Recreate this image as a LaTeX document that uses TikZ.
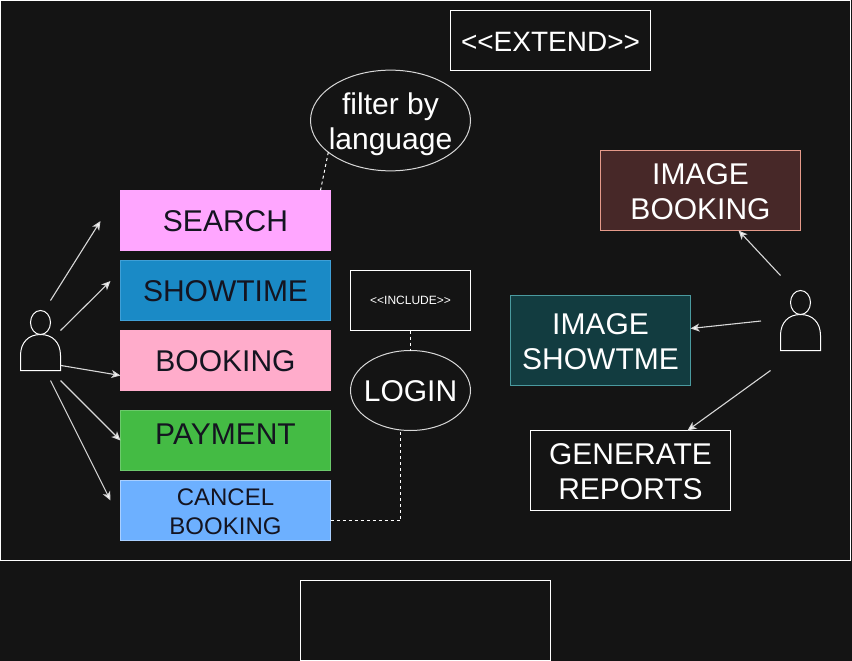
\documentclass[tikz,border=0pt]{standalone}
\usepackage{fontspec}
\setmainfont{Liberation Sans}
\usetikzlibrary{arrows.meta,shapes.geometric}
\definecolor{bgc}{HTML}{141414}
\definecolor{darktxt}{HTML}{141420}
\definecolor{linec}{HTML}{D8D8D8}
\definecolor{searchc}{HTML}{FFA6FF}
\definecolor{showc}{HTML}{1A8AC6}
\definecolor{showb}{HTML}{3F9FD6}
\definecolor{bookc}{HTML}{FFACCB}
\definecolor{payc}{HTML}{44BB44}
\definecolor{payb}{HTML}{6CC96C}
\definecolor{cancelc}{HTML}{6DB0FF}
\definecolor{cancelb}{HTML}{A9CFFF}
\definecolor{imgbc}{HTML}{472828}
\definecolor{imgbb}{HTML}{E59A8A}
\definecolor{imgsc}{HTML}{123C40}
\definecolor{imgsb}{HTML}{4A9A9F}
\newcommand{\topstrut}[1]{\rule{0pt}{#1pt}}
\tikzset{
  x=1pt,y=-1pt,
  big/.style={font=\fontsize{30}{35}\selectfont},
  boxnode/.style={rectangle,inner sep=0pt,outer sep=0pt,minimum width=#1,align=center,line width=1pt,big},
  boxnode/.default=210pt,
  h60/.style={minimum height=60pt},
  h80/.style={minimum height=80pt},
  ovalnode/.style={ellipse,draw=linec,line width=1pt,inner sep=0pt,outer sep=0pt,align=center,text=white,big},
  flow/.style={draw=linec,line width=1.1pt,-{Stealth[length=9pt,width=8pt,inset=2.5pt,fill=white]}},
  dashlink/.style={draw=white,line width=1pt,dash pattern=on 3pt off 3pt},
  useractor/.pic={
    \draw[white,line width=1pt,fill=bgc] (-20,36) -- (-20,21)
      .. controls (-20,8) and (-12,0) .. (0,0)
      .. controls (12,0) and (20,8) .. (20,21) -- (20,36) -- cycle;
    \draw[white,line width=1pt,fill=bgc] (0,-12) ellipse [x radius=10,y radius=12];
  }
}
\begin{document}
\begin{tikzpicture}
\path[fill=bgc] (0,0) rectangle (852,661);
\useasboundingbox (0,0) rectangle (852,661);
\draw[white,line width=1pt] (0.5,0.5) rectangle (850.5,560.5);
\node[boxnode=250pt,h80,draw=white] (blank) at (425.5,620.5) {};
\node[boxnode=200pt,h60,draw=white,text=white,font=\fontsize{28}{33}\selectfont] (extend) at (550.5,40.5) {\topstrut{22}<\kern0pt<EXTEND>\kern0pt>};
\node[ovalnode,minimum width=160pt,minimum height=100pt] (filter) at (390.5,120.5) {\topstrut{30}\makebox[0pt]{filter by}\\\makebox[0pt]{language}};
\node[boxnode,h60,fill=searchc,draw=searchc,text=darktxt] (search) at (225.5,220.5) {\topstrut{22.5}SEARCH};
\node[boxnode,h60,fill=showc,draw=showb,text=darktxt] (showtime) at (225.5,290.5) {\topstrut{22.5}SHOWTIME};
\node[boxnode,h60,fill=bookc,draw=bookc,text=darktxt] (booking) at (225.5,360.5) {\topstrut{22.5}BOOKING};
\node[boxnode,h60,fill=payc,draw=payb,text=darktxt] (payment) at (225.5,440.5) {\raisebox{13pt}{PAYMENT}};
\node[boxnode,h60,fill=cancelc,draw=cancelb,text=darktxt,font=\fontsize{24}{29}\selectfont] (cancel) at (225.5,510.5) {\topstrut{20}CANCEL\\BOOKING};
\node[boxnode=120pt,h60,draw=white,text=white,font=\fontsize{12}{14}\selectfont] (include) at (410.5,300.5) {<\kern0pt<INCLUDE>\kern0pt>};
\node[ovalnode,minimum width=120pt,minimum height=80pt] (login) at (410.5,390.5) {\topstrut{22.5}\makebox[0pt]{LOGIN}};
\node[boxnode=200pt,h80,fill=imgbc,draw=imgbb,text=white] (imgbook) at (700.5,190.5) {\topstrut{22.5}IMAGE\\BOOKING};
\node[boxnode=180pt,minimum height=90pt,fill=imgsc,draw=imgsb,text=white] (imgshow) at (600.5,340.5) {\topstrut{22.5}IMAGE\\SHOWTME};
\node[boxnode=200pt,h80,draw=white,text=white] (reports) at (630.5,470.5) {\topstrut{22.5}GENERATE\\REPORTS};
\pic at (40.5,334.5) {useractor};
\pic at (800.5,314.5) {useractor};
\coordinate (la) at (50.5,300.5);
\coordinate (lae) at (100.5,221);
\coordinate (lb) at (60.5,330.5);
\coordinate (lbe) at (110.5,281);
\coordinate (lc) at (61,365.5);
\coordinate (ld) at (60.5,380.5);
\coordinate (le) at (50.5,380.5);
\coordinate (lee) at (110.5,500.5);
\coordinate (ra) at (780.5,275.5);
\coordinate (rb) at (761,321);
\coordinate (rc) at (770.5,370.5);
\coordinate (lcorner) at (400.5,520.5);
\draw[flow] (la) -- (lae);
\draw[flow] (lb) -- (lbe);
\draw[flow] (lc) -- ([yshift=-15pt]booking.west);
\draw[flow] (ld) -- (payment.west);
\draw[flow] (le) -- (lee);
\draw[flow] (ra) -- ([xshift=38pt]imgbook.south);
\draw[flow] (rb) -- ([yshift=12pt]imgshow.east);
\draw[flow] (rc) -- ([xshift=57pt]reports.north);
\draw[dashlink] (filter.207.7) -- ([xshift=-10pt]search.north east);
\draw[dashlink] (include.south) -- (login.north);
\draw[dashlink] ([yshift=-10pt]cancel.east) -- (lcorner) -- (lcorner |- login.south);
\end{tikzpicture}
\end{document}
